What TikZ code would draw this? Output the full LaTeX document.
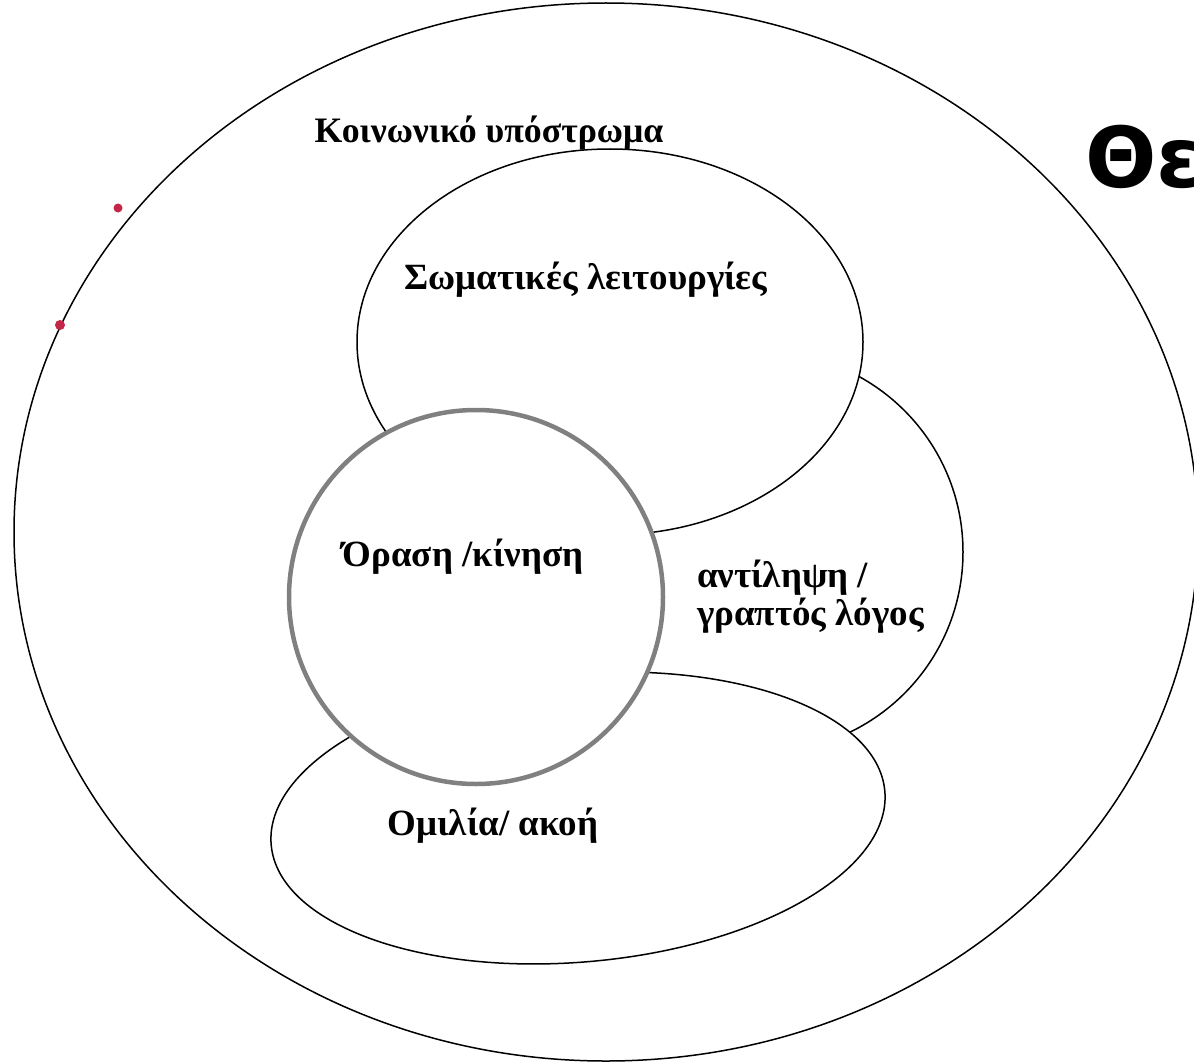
\documentclass[tikz,border=0pt]{standalone}
\usepackage{fontspec}
\setmainfont{Liberation Serif}
\newfontfamily\headfont{DejaVu Sans}
\usetikzlibrary{positioning}
\definecolor{ringgray}{RGB}{128,128,128}
\definecolor{dotred}{RGB}{196,38,72}
\tikzstyle{zone}=[draw=black, line width=1.5pt, fill=white]
\tikzstyle{core}=[draw=ringgray, line width=4.5pt, fill=white]
\tikzstyle{lbl}=[font=\fontsize{37}{38}\selectfont\bfseries, inner sep=0pt]
\tikzstyle{speck}=[fill=dotred, draw=none]

\begin{document}
\begin{tikzpicture}[x=1pt,y=-1pt]

\useasboundingbox (0,0) rectangle (1194,1062);
\clip (0,0) rectangle (1194,1062);

% outer
\draw[line width=1.5pt] (606,532) ellipse [x radius=592, y radius=529];
\fill[speck] (118,208) circle (4.5);
\fill[speck] (60,325) circle (5);

% zones
\filldraw[zone] (763,552) ellipse [x radius=200, y radius=200];
\filldraw[zone] (610,342) ellipse [x radius=253, y radius=193];
\filldraw[zone, rotate around={5:(578,818)}] (578,818) ellipse [x radius=308, y radius=144];

% core
\filldraw[core] (476,597) circle (187);

% labels
\node[lbl, font=\fontsize{35.8}{38}\selectfont\bfseries] (social) at (489,133) {Κοινωνικό υπόστρωμα};
\node[lbl] (soma) at (586,280) {Σωματικές λειτουργίες};
\node[lbl] (vision) at (463,557) {Όραση /κίνηση};
\node[lbl, align=left, anchor=west] (percept) at (697,597) {αντίληψη /\\γραπτός λόγος};
\node[lbl] (speech) at (493,826) {Ομιλία/ ακοή};
\node[font=\headfont\fontsize{84}{90}\selectfont\bfseries, anchor=west, inner sep=0pt] (title) at (1085,157) {Θε};

\end{tikzpicture}
\end{document}
